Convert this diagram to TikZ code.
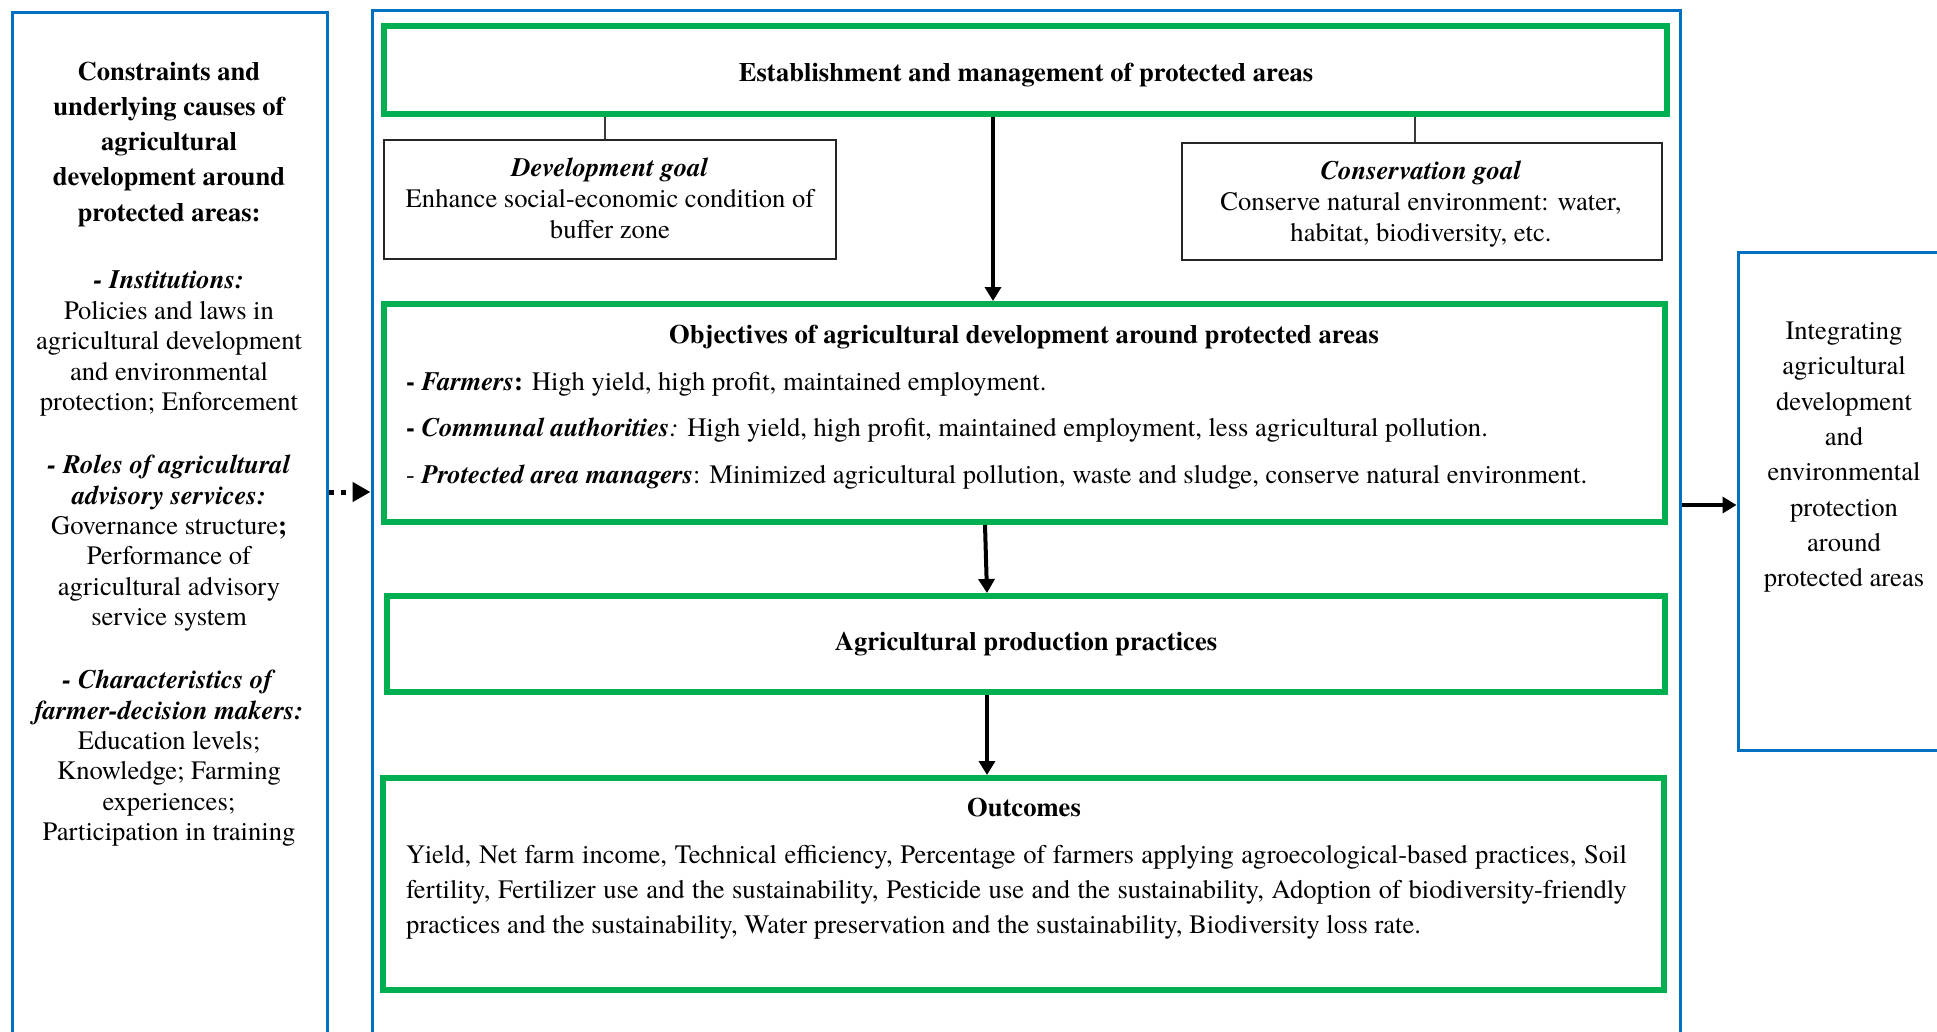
\documentclass[tikz,border=0pt]{standalone}
\usepackage{fontspec}
\setmainfont{texgyretermes}[
  Extension=.otf,
  UprightFont=*-regular,
  BoldFont=*-bold,
  ItalicFont=*-italic,
  BoldItalicFont=*-bolditalic]
\usetikzlibrary{arrows.meta}
\definecolor{frameblue}{HTML}{0070C0}
\definecolor{stagegreen}{HTML}{00B050}
\definecolor{linkgray}{HTML}{3A3A3A}

\begin{document}
\begin{tikzpicture}[x=1pt,y=-1pt,
  frame/.style={draw=frameblue, line width=3pt, rectangle, inner sep=0pt},
  stage/.style={draw=stagegreen, line width=6pt, rectangle, inner sep=0pt},
  goalbox/.style={draw=black!85, line width=1.3pt, rectangle, inner sep=0pt},
  txt/.style={inner sep=0pt, outer sep=0pt},
  flow/.style={-{Triangle[length=14pt,width=16pt]}, line width=4pt},
  dotflow/.style={-{Triangle[length=18pt,width=19pt]}, line width=5pt, dash pattern=on 5pt off 7pt},
  link/.style={draw=linkgray, line width=1.3pt}]

\useasboundingbox (0,0) rectangle (1937,1031);
\clip (0,0) rectangle (1937,1031);

% outer frames
\node[frame, minimum width=315pt, minimum height=1048pt] (leftbox) at (169.5,536) {};
\node[frame, minimum width=1308pt, minimum height=1050pt] (midbox) at (1026,535) {};
\node[frame, minimum width=242pt, minimum height=498pt] (rightbox) at (1859,501) {};

% stages of the framework
\node[stage, minimum width=1283pt, minimum height=88pt] (estab) at (1025.5,70) {};
\node[goalbox, minimum width=452pt, minimum height=119pt] (devgoal) at (610,199.5) {};
\node[goalbox, minimum width=480pt, minimum height=117pt] (consgoal) at (1422,201.5) {};
\node[stage, minimum width=1281pt, minimum height=218pt] (objectives) at (1024.5,413) {};
\node[stage, minimum width=1278pt, minimum height=96pt] (agri) at (1026,644) {};
\node[stage, minimum width=1281pt, minimum height=212pt] (outcomes) at (1023.5,884) {};

% left column text
\node[txt, align=center, anchor=north, font=\fontsize{26.6}{35.2}\selectfont\bfseries] (lhead) at (169,62)
  {Constraints and\\underlying causes of\\agricultural\\development around\\protected areas:};
\node[txt, align=center, anchor=north, font=\fontsize{26.6}{30.4}\selectfont] (linst) at (169,271)
  {\textbf{\textit{- Institutions:}}\\Policies and laws in\\agricultural development\\and environmental\\protection; Enforcement};
\node[txt, align=center, anchor=north, font=\fontsize{26.6}{30.4}\selectfont] (lroles) at (169,455)
  {\textbf{\textit{- Roles of agricultural}}\\\textbf{\textit{advisory services:}}\\Governance structure\textbf{;}\\Performance of\\agricultural advisory\\service system};
\node[txt, align=center, anchor=north, font=\fontsize{26.6}{30.4}\selectfont] (lfarm) at (169,670)
  {\textbf{\textit{- Characteristics of}}\\\textbf{\textit{farmer-decision makers:}}\\Education levels;\\Knowledge; Farming\\experiences;\\Participation in training};

% right column text
\node[txt, align=center, anchor=north, font=\fontsize{26.6}{35.3}\selectfont] (rtext) at (1844,322)
  {Integrating\\agricultural\\development\\and\\environmental\\protection\\around\\protected areas};

% middle column text
\node[txt, anchor=north, font=\fontsize{26.6}{30.4}\selectfont\bfseries] (estabtext) at (1026,63)
  {Establishment and management of protected areas};
\node[txt, align=center, anchor=north, font=\fontsize{26.6}{31}\selectfont] (devtext) at (610,158)
  {\textbf{\textit{Development goal}}\\Enhance social-economic condition of\\buffer zone};
\node[txt, align=center, anchor=north, font=\fontsize{26.6}{31}\selectfont] (constext) at (1421,161)
  {\textbf{\textit{Conservation goal}}\\Conserve natural environment: water,\\habitat, biodiversity, etc.};
\node[txt, anchor=north, font=\fontsize{26.6}{30.4}\selectfont\bfseries] (objtitle) at (1024,325)
  {Objectives of agricultural development around protected areas};
\node[txt, align=left, anchor=north west, font=\fontsize{26.6}{46.5}\selectfont] (objtext) at (406,372)
  {\textbf{- \textit{Farmers}:} High yield, high profit, maintained employment.\\
   \textbf{- \textit{Communal authorities}}\textit{:} High yield, high profit, maintained employment, less agricultural pollution.\\
   - \textbf{\textit{Protected area managers}}: Minimized agricultural pollution, waste and sludge, conserve natural environment.};
\node[txt, anchor=north, font=\fontsize{26.6}{30.4}\selectfont\bfseries] (agritext) at (1026,632)
  {Agricultural production practices};
\node[txt, anchor=north, font=\fontsize{26.6}{30.4}\selectfont\bfseries] (outtitle) at (1024,798)
  {Outcomes};
\node[txt, align=left, anchor=north west, font=\fontsize{26.6}{35}\selectfont] (outtext) at (406,845)
  {\makebox[1221pt][s]{Yield, Net farm income, Technical efficiency, Percentage of farmers applying agroecological-based practices, Soil}\\
   \makebox[1221pt][s]{fertility, Fertilizer use and the sustainability, Pesticide use and the sustainability, Adoption of biodiversity-friendly}\\
   practices and the sustainability, Water preservation and the sustainability, Biodiversity loss rate.};

% connectors
\coordinate (dx) at (605,0);
\coordinate (cx) at (1415,0);
\draw[link] (estab.south -| dx) -- (devgoal.north -| dx);
\draw[link] (estab.south -| cx) -- (consgoal.north -| cx);

\coordinate (ax1) at (993,0);
\coordinate (ax2) at (985,0);
\coordinate (ax3) at (987,0);
\draw[flow] (estab.south -| ax1) -- (objectives.north -| ax1);
\draw[flow] (objectives.south -| ax2) -- (agri.north -| ax3);
\draw[flow] (agri.south -| ax3) -- (outcomes.north -| ax3);

\coordinate (dy) at (0,492);
\draw[dotflow] (leftbox.east |- dy) -- (midbox.west |- dy);
\coordinate (ry) at (0,505);
\draw[flow] (midbox.east |- ry) -- (rightbox.west |- ry);
\end{tikzpicture}
\end{document}
